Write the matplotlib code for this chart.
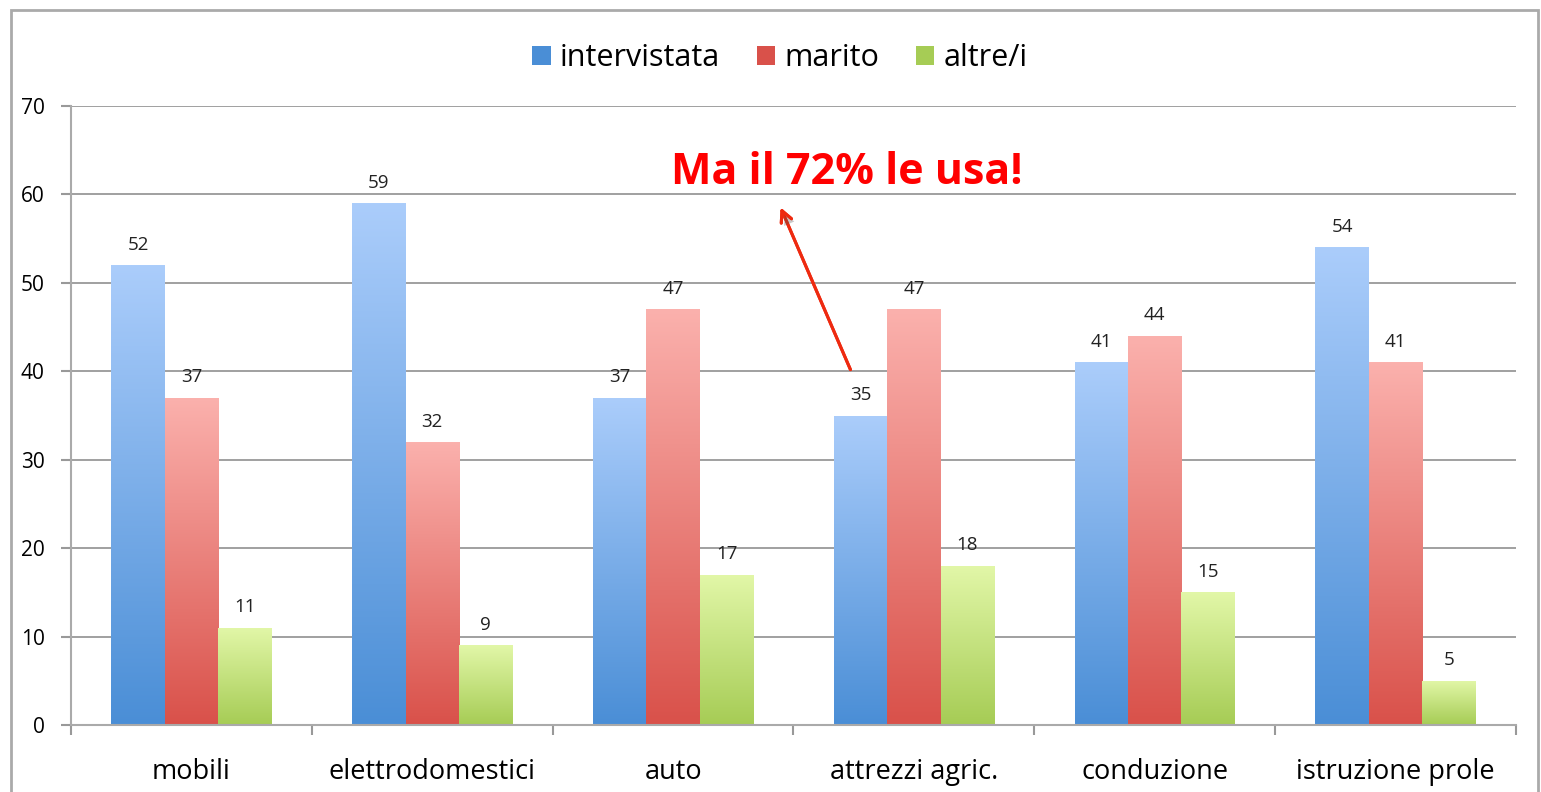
import numpy as np
import matplotlib.pyplot as plt
from matplotlib.colors import LinearSegmentedColormap
from matplotlib.patches import Rectangle
import matplotlib.patheffects as pe

categories = ['mobili', 'elettrodomestici', 'auto', 'attrezzi agric.', 'conduzione', 'istruzione prole']
intervistata = [52, 59, 37, 35, 41, 54]
marito = [37, 32, 47, 47, 44, 41]
altre = [11, 9, 17, 18, 15, 5]
series_names = ['intervistata', 'marito', 'altre/i']

plt.rcParams['font.family'] = ['Open Sans', 'DejaVu Sans']

# (top colour, bottom colour) for each series
grads = [('#abcdfb', '#4a8ed6'), ('#fbb1ad', '#d9514a'), ('#e2f7a8', '#a6cc55')]

fig = plt.figure(figsize=(15.41, 7.92), dpi=100)
ax = fig.add_axes([71 / 1541, 1 - 725 / 792, (1516 - 71) / 1541, (725 - 106) / 792])

x = np.arange(len(categories))
w = 0.222
img = np.linspace(1, 0, 256).reshape(-1, 1)
for i, vals in enumerate([intervistata, marito, altre]):
    cmap = LinearSegmentedColormap.from_list('g%d' % i, [grads[i][1], grads[i][0]])
    bars = ax.bar(x + (i - 1) * w, vals, w, color=grads[i][1], label=series_names[i], zorder=2)
    for b, v in zip(bars, vals):
        x0, y0 = b.get_x(), b.get_y()
        im = ax.imshow(img, cmap=cmap, aspect='auto', extent=(x0, x0 + w, 0, v),
                       zorder=2.1, vmin=0, vmax=1)
        im.set_clip_path(b)
        b.set_facecolor('none')
        ax.text(x0 + w / 2, v + 1.3, str(v), ha='center', va='bottom', fontsize=13.5, color='#222222')

ax.set_xlim(-0.5, len(categories) - 0.5)
ax.set_ylim(0, 70)
ax.set_yticks(range(0, 71, 10))
ax.set_xticks(np.arange(len(categories) + 1) - 0.5, minor=False)
ax.set_xticklabels([])
ax.set_xticks(x, minor=True)
ax.set_xticklabels(categories, minor=True, fontsize=19.5)
ax.tick_params(axis='x', which='minor', length=0, pad=24)
ax.tick_params(axis='x', which='major', length=7, color='#999999', width=1.5)
ax.tick_params(axis='y', length=7, color='#999999', width=1.5, labelsize=15, pad=12)
ax.grid(axis='y', color='#999999', linewidth=1.3, zorder=0)
for s in ['top', 'right']:
    ax.spines[s].set_visible(False)
for s in ['left', 'bottom']:
    ax.spines[s].set_color('#aaaaaa')
    ax.spines[s].set_linewidth(1.5)

handles = [Rectangle((0, 0), 1, 1, facecolor=c[1], edgecolor='none') for c in grads]
fig.legend(handles, series_names, loc='center', bbox_to_anchor=(780 / 1541, 1 - 58 / 792),
           ncol=3, frameon=False, fontsize=22, handlelength=0.6, handleheight=0.6,
           handletextpad=0.3, columnspacing=1.2)

ax.annotate('', xy=(2.442, 58.8), xytext=(2.741, 39.9),
            arrowprops=dict(arrowstyle='->,head_width=0.4,head_length=0.8', color='#ee2a10', lw=2.2,
                            path_effects=[pe.withSimplePatchShadow(offset=(2, -2), alpha=0.3), pe.Normal()]))
fig.text(847 / 1541, 1 - 172 / 792, 'Ma il 72% le usa!', ha='center', va='center',
         fontsize=31, fontweight='bold', color='#ff0000')

fig.patches.append(Rectangle((11 / 1541, -0.1), (1538 - 11) / 1541, 1.1 - 10 / 792,
                             transform=fig.transFigure, fill=False, edgecolor='#aaaaaa', lw=2))

fig.savefig('out.png', dpi=100)
